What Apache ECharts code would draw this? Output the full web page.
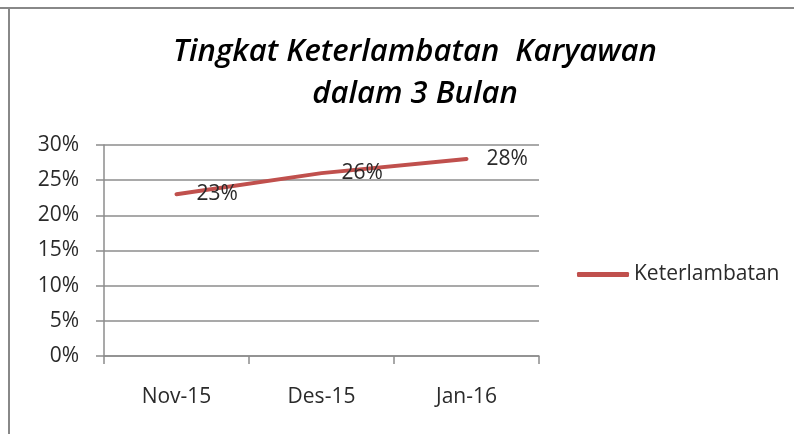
<!DOCTYPE html>
<html>
<head>
<meta charset="utf-8">
<script src="https://cdn.jsdelivr.net/npm/echarts@6/dist/echarts.min.js"></script>
<style>
  html, body { margin: 0; padding: 0; background: #fff; }
  #chart { width: 794px; height: 434px; }
</style>
</head>
<body>
<div id="chart"></div>
<script>
"use strict";
const months = ["Nov-15", "Des-15", "Jan-16"];
const lateness = [23, 26, 28];            // percent
const seriesName = "Keterlambatan";
const titleLines = ["Tingkat Keterlambatan  Karyawan", "dalam 3 Bulan"];

const FONT = "'Open Sans', Lato, sans-serif";
const RED = "#C0504D";
const GRID = "#8c8c8c";
const INK = "#2a2a2a";

const chart = echarts.init(document.getElementById("chart"), null, { renderer: "canvas" });
chart.setOption({
  animation: false,
  backgroundColor: "#fff",
  textStyle: { fontFamily: FONT },
  title: {
    text: titleLines.join("\n"),
    left: 410, top: 26, textAlign: "center",
    textStyle: { fontFamily: FONT, fontSize: 31, fontWeight: 600, fontStyle: "italic",
                 color: "#000", lineHeight: 42 }
  },
  legend: {
    data: [seriesName], left: 577, top: 264, padding: 0,
    icon: "roundRect", itemWidth: 52, itemHeight: 5, itemGap: 5,
    textStyle: { fontFamily: FONT, fontSize: 21, color: INK }
  },
  grid: { left: 104, top: 145, width: 435, height: 211 },
  xAxis: {
    type: "category", data: months, boundaryGap: true,
    axisLine: { lineStyle: { color: GRID, width: 1.5 } },
    axisTick: { show: true, length: 8, lineStyle: { color: GRID, width: 1.5 } },
    axisLabel: { margin: 31, fontSize: 21, color: INK, fontFamily: FONT }
  },
  yAxis: {
    type: "value", min: 0, max: 30, interval: 5,
    axisLine: { show: true, lineStyle: { color: GRID, width: 1.5 } },
    axisTick: { show: true, length: 8, lineStyle: { color: GRID, width: 1.5 } },
    axisLabel: { formatter: "{value}%", margin: 25, fontSize: 21, color: INK, fontFamily: FONT },
    splitLine: { lineStyle: { color: GRID, width: 1.5 } }
  },
  series: [{
    name: seriesName, type: "line", data: lateness,
    symbol: "circle", symbolSize: 0, showSymbol: true,
    lineStyle: { color: RED, width: 4, cap: "round" }, color: RED,
    label: { show: true, position: "right", distance: 20, formatter: "{c}%",
             fontSize: 21, color: INK, fontFamily: FONT }
  }],
  graphic: [
    { type: "line", shape: { x1: 0, y1: 8, x2: 794, y2: 8 }, style: { stroke: "#888", lineWidth: 2 } },
    { type: "line", shape: { x1: 9, y1: 8, x2: 9, y2: 434 }, style: { stroke: "#888", lineWidth: 2 } }
  ]
});
</script>
</body>
</html>
